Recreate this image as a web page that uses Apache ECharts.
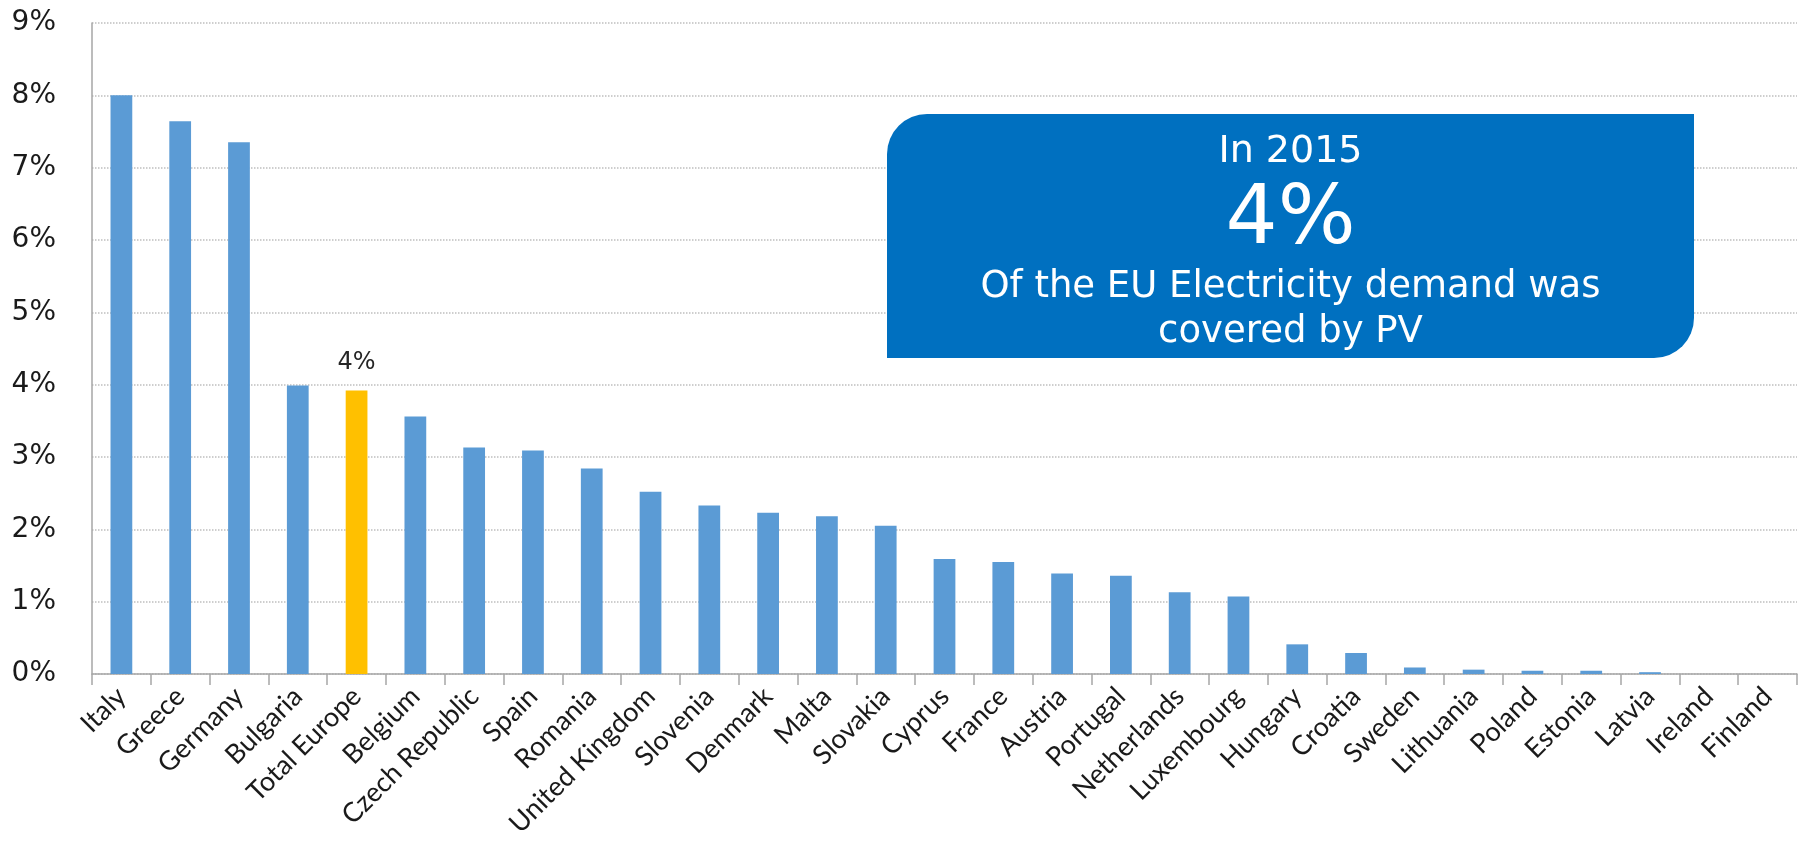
<!DOCTYPE html>
<html>
<head>
<meta charset="utf-8">
<script src="https://cdn.jsdelivr.net/npm/echarts@6/dist/echarts.min.js"></script>
<style>
html,body{margin:0;padding:0;background:#fff;}
#chart{width:1801px;height:842px;}
</style>
</head>
<body>
<div id="chart"></div>
<script>
const categories = ['Italy','Greece','Germany','Bulgaria','Total Europe','Belgium','Czech Republic','Spain','Romania','United Kingdom','Slovenia','Denmark','Malta','Slovakia','Cyprus','France','Austria','Portugal','Netherlands','Luxembourg','Hungary','Croatia','Sweden','Lithuania','Poland','Estonia','Latvia','Ireland','Finland'];
const shares = [8.00,7.64,7.35,3.99,3.92,3.56,3.13,3.09,2.84,2.52,2.33,2.23,2.18,2.05,1.59,1.55,1.39,1.36,1.13,1.07,0.41,0.29,0.09,0.06,0.045,0.045,0.025,0,0];
const highlightCategory = 'Total Europe';
const yTicks = [0,1,2,3,4,5,6,7,8,9];
const boxLines = ['In 2015','4%','Of the EU Electricity demand was','covered by PV'];

const chart = echarts.init(document.getElementById('chart'), null, {renderer:'canvas'});

const seriesData = shares.map((v, i) => {
  if (categories[i] === highlightCategory) {
    return {
      value: v,
      itemStyle: {color: '#FFC000'},
      label: {
        show: true, position: 'top', distance: 16,
        formatter: p => Math.round(p.value) + '%',
        fontFamily: 'DejaVu Sans', fontSize: 24, color: '#262626'
      }
    };
  }
  return v;
});

const boxX = 887, boxY = 114, boxW = 807, boxH = 244;
const cx = boxX + boxW / 2;

const option = {
  animation: false,
  backgroundColor: '#ffffff',
  grid: {left: 92, right: 4, top: 23, bottom: 168, containLabel: false, outerBoundsMode: 'none'},
  xAxis: {
    type: 'category',
    data: categories,
    boundaryGap: true,
    axisLine: {show: true, lineStyle: {color: '#a6a6a6', width: 1.5}},
    axisTick: {show: true, alignWithLabel: false, interval: 0, length: 11, lineStyle: {color: '#a6a6a6', width: 1.5}},
    axisLabel: {
      interval: 0, rotate: 45, margin: 18,
      fontFamily: 'Lato', fontSize: 27, color: '#1a1a1a'
    },
    splitLine: {show: false}
  },
  yAxis: {
    type: 'value',
    min: yTicks[0], max: yTicks[yTicks.length - 1], interval: 1,
    axisLine: {show: true, lineStyle: {color: '#a6a6a6', width: 1.5}},
    axisTick: {show: false},
    axisLabel: {
      formatter: '{value}%', margin: 36,
      fontFamily: 'DejaVu Sans', fontSize: 28, color: '#1a1a1a'
    },
    splitLine: {show: true, lineStyle: {color: '#bfbfbf', type: 'dotted', width: 1.5}}
  },
  series: [{
    type: 'bar',
    data: seriesData,
    barWidth: '37%',
    itemStyle: {color: '#5B9BD5'}
  }],
  graphic: [
    {
      type: 'rect', z: 100,
      shape: {x: boxX, y: boxY, width: boxW, height: boxH, r: [40, 0, 40, 0]},
      style: {fill: '#0070C0'}
    },
    {type: 'text', z: 101, x: cx, y: 152, style: {text: boxLines[0], fill: '#fff', fontFamily: 'DejaVu Sans', fontSize: 38, textAlign: 'center', textVerticalAlign: 'middle'}},
    {type: 'text', z: 101, x: cx, y: 222, style: {text: boxLines[1], fill: '#fff', fontFamily: 'DejaVu Sans', fontSize: 82, textAlign: 'center', textVerticalAlign: 'middle'}},
    {type: 'text', z: 101, x: cx, y: 287, style: {text: boxLines[2], fill: '#fff', fontFamily: 'DejaVu Sans', fontSize: 37, textAlign: 'center', textVerticalAlign: 'middle'}},
    {type: 'text', z: 101, x: cx, y: 332, style: {text: boxLines[3], fill: '#fff', fontFamily: 'DejaVu Sans', fontSize: 37, textAlign: 'center', textVerticalAlign: 'middle'}}
  ]
};
chart.setOption(option);
</script>
</body>
</html>
